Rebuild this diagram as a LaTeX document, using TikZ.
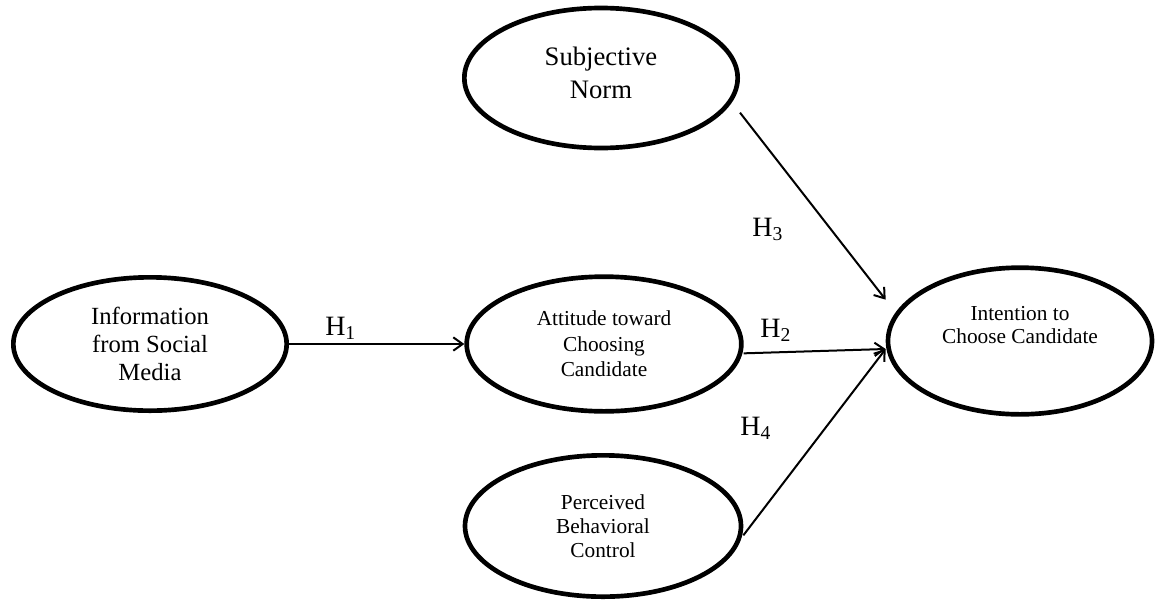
\documentclass[tikz,border=0pt]{standalone}
\usepackage{fontspec}
\setmainfont{Liberation Serif}
\usetikzlibrary{arrows.meta}
\usetikzlibrary{shapes.geometric}

\begin{document}
\begin{tikzpicture}[x=0.75pt,y=-0.75pt,
    construct/.style={draw,ellipse,line width=3.5pt,inner sep=0pt,align=center},
    hyp/.style={anchor=base west,inner sep=0pt,font=\fontsize{21}{24}\selectfont}]
  \useasboundingbox (0,0) rectangle (1155,600);

  \node [construct,minimum width=205pt,minimum height=100pt,font=\fontsize{18.5}{21}\selectfont] (Info) at (150,344) {Information\\from Social\\Media};
  \node [construct,minimum width=205pt,minimum height=105pt,
    label={[name=SNlab,align=center,yshift=4pt,font=\fontsize{20}{25}\selectfont]center:Subjective\\Norm}] (SN) at (601,78) {};
  \node [construct,minimum width=206pt,minimum height=101pt,font=\fontsize{16}{19}\selectfont] (Att) at (604,344) {Attitude toward\\Choosing\\Candidate};
  \node [construct,minimum width=207pt,minimum height=106pt,font=\fontsize{16}{18}\selectfont] (PBC) at (603,526) {Perceived\\Behavioral\\Control};
  \node [construct,minimum width=198pt,minimum height=110pt,
    label={[name=Intentlab,align=center,yshift=12pt,font=\fontsize{16}{17.5}\selectfont]center:Intention to\\Choose Candidate}] (Intent) at (1020,341) {};

  % hypotheses
  \path [line width=1.5pt,-{Straight Barb[length=7pt,width=10pt]}]
    (Info.east) edge (Att.west)
    ([yshift=-7pt]Att.east) edge ([yshift=-6pt]Intent.west)
    ([yshift=-26pt]SN.east) edge ([yshift=31pt]Intent.west)
    ([yshift=-7pt]PBC.east) edge ([yshift=-6pt]Intent.west);

  \node [hyp] (H1) at (325,335) {H\textsubscript{1}};
  \node [hyp] (H2) at (760,337) {H\textsubscript{2}};
  \node [hyp] (H3) at (752,236) {H\textsubscript{3}};
  \node [hyp] (H4) at (740,435) {H\textsubscript{4}};

\end{tikzpicture}
\end{document}
